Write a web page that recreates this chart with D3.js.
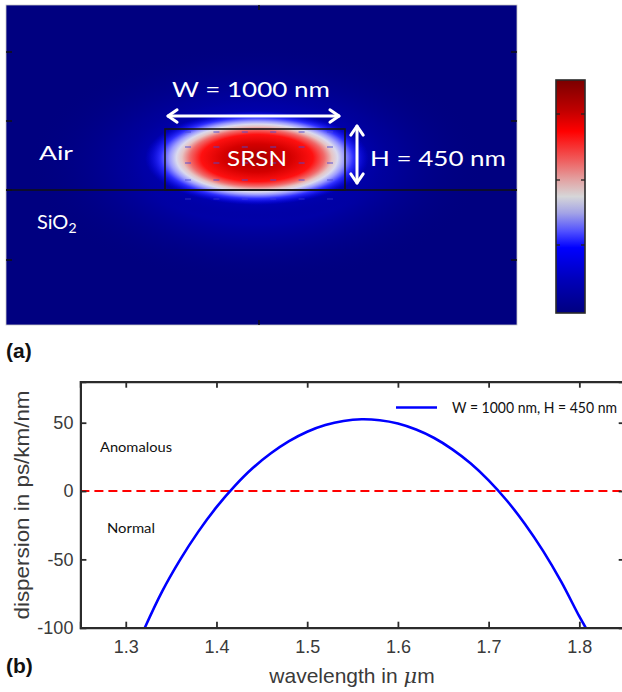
<!DOCTYPE html>
<html>
<head>
<meta charset="utf-8">
<script src="https://cdn.jsdelivr.net/npm/d3@7"></script>
<style>
  body { margin: 0; background: #fff; }
  svg { display: block; }
</style>
</head>
<body>
<svg id="chart" width="622" height="692"></svg>
<script>
// ---- data: dispersion curve ----
const wavelength = [1.321, 1.34, 1.36, 1.38, 1.40, 1.42, 1.44, 1.46, 1.48, 1.50, 1.52, 1.54, 1.56,
                    1.58, 1.60, 1.62, 1.64, 1.66, 1.68, 1.70, 1.72, 1.74, 1.76, 1.78, 1.80, 1.807];
const dispersion = [-100, -73.6, -50.2, -29.7, -11.8, 3.6, 16.8, 27.6, 36.5, 43.4, 48.3, 51.3, 52.5,
                    51.8, 49.4, 45.0, 38.8, 30.5, 20.3, 7.8, -6.9, -24.1, -43.8, -66.3, -91.8, -100];
const xTicks = [1.3, 1.4, 1.5, 1.6, 1.7, 1.8];
const yTicks = [-100, -50, 0, 50];
const seriesName = "W = 1000 nm, H = 450 nm";
const regionLabels = [{name: "Anomalous", value: 32}, {name: "Normal", value: -27}];

// colour map of the mode plot (top = max, bottom = min)
const cmapStops = [
  {o: 0,    c: "#7a0000"}, {o: 0.13, c: "#c00000"}, {o: 0.22, c: "#ff0000"},
  {o: 0.34, c: "#f05a5a"}, {o: 0.43, c: "#e2a4a4"}, {o: 0.5,  c: "#d6d6d8"},
  {o: 0.57, c: "#a4a4e6"}, {o: 0.65, c: "#5050ff"}, {o: 0.72, c: "#0000ff"},
  {o: 0.86, c: "#0000b8"}, {o: 1,    c: "#000080"}
];

const svg = d3.select("#chart");
const defs = svg.append("defs");

// ================= (a) mode plot =================
const img = {x0: 6, y0: 5, x1: 517, y1: 325};
const wg = {x0: 165, y0: 129, x1: 345, y1: 190};
const cx = 257, cy = 158;

// core gradient (same colour map, centre = max)
const core = defs.append("radialGradient").attr("id", "core");
[
  {o: 0,    c: "#a80000", a: 1}, {o: 0.3, c: "#d40000", a: 1}, {o: 0.5, c: "#ff1010", a: 1},
  {o: 0.6,  c: "#f06a6a", a: 1}, {o: 0.67, c: "#e6c4c4", a: 1}, {o: 0.72, c: "#dadaee", a: 1},
  {o: 0.78, c: "#9c9cff", a: 1}, {o: 0.86, c: "#3030ff", a: 1}, {o: 1, c: "#0000f0", a: 0}
].forEach(s => core.append("stop").attr("offset", s.o).attr("stop-color", s.c).attr("stop-opacity", s.a));

const halo = defs.append("radialGradient").attr("id", "halo");
[
  {o: 0, c: "#0000ff", a: 1}, {o: 0.5, c: "#0000f0", a: 0.75}, {o: 1, c: "#000080", a: 0}
].forEach(s => halo.append("stop").attr("offset", s.o).attr("stop-color", s.c).attr("stop-opacity", s.a));

defs.append("clipPath").attr("id", "imgClip")
  .append("rect").attr("x", img.x0).attr("y", img.y0)
  .attr("width", img.x1 - img.x0).attr("height", img.y1 - img.y0);

const gA = svg.append("g");
gA.append("rect")
  .attr("x", img.x0).attr("y", img.y0)
  .attr("width", img.x1 - img.x0).attr("height", img.y1 - img.y0)
  .attr("fill", "#000080").attr("stroke", "#c8c8c8").attr("stroke-width", 0.8);

const field = gA.append("g").attr("clip-path", "url(#imgClip)");
field.append("ellipse").attr("cx", cx).attr("cy", cy + 6).attr("rx", 230).attr("ry", 120)
  .attr("fill", "url(#halo)").attr("opacity", 0.45);
field.append("ellipse").attr("cx", cx).attr("cy", cy).attr("rx", 140).attr("ry", 62)
  .attr("fill", "url(#halo)").attr("opacity", 0.8);
field.append("ellipse").attr("cx", cx).attr("cy", cy).attr("rx", 112).attr("ry", 47)
  .attr("fill", "url(#core)");

// small arrows of the field vectors
const arrowCols = d3.range(6).map(i => 188 + i * 28.4);
const arrowRows = [132, 147, 163, 180, 199];
arrowRows.forEach(ry => arrowCols.forEach(ax => {
  field.append("line").attr("x1", ax - 3).attr("x2", ax + 3).attr("y1", ry).attr("y2", ry)
    .attr("stroke", "#4a4ad8").attr("stroke-width", 1.2).attr("opacity", ry > 190 ? 0.5 : 0.75);
}));

// waveguide box and substrate line
gA.append("line").attr("x1", img.x0).attr("x2", img.x1).attr("y1", wg.y1).attr("y2", wg.y1)
  .attr("stroke", "#111").attr("stroke-width", 1.6);
gA.append("rect").attr("x", wg.x0).attr("y", wg.y0)
  .attr("width", wg.x1 - wg.x0).attr("height", wg.y1 - wg.y0)
  .attr("fill", "none").attr("stroke", "#151515").attr("stroke-width", 1.6);

// frame ticks
const sideTicks = [52, 121, 190, 260];
sideTicks.forEach(t => {
  gA.append("line").attr("x1", img.x0).attr("x2", img.x0 + 6).attr("y1", t).attr("y2", t)
    .attr("stroke", "#111").attr("stroke-width", 1.5);
  gA.append("line").attr("x1", img.x1 - 6).attr("x2", img.x1).attr("y1", t).attr("y2", t)
    .attr("stroke", "#111").attr("stroke-width", 1.5);
});
[[img.y0, img.y0 + 5], [img.y1 - 5, img.y1]].forEach(([a, b]) => {
  gA.append("line").attr("x1", 259).attr("x2", 259).attr("y1", a).attr("y2", b)
    .attr("stroke", "#111").attr("stroke-width", 1.5);
});

// dimension arrows
function dblArrow(x1, y1, x2, y2) {
  const g = gA.append("g").attr("stroke", "#fff").attr("stroke-width", 3)
    .attr("fill", "none").attr("stroke-linecap", "round").attr("stroke-linejoin", "round");
  g.append("line").attr("x1", x1).attr("y1", y1).attr("x2", x2).attr("y2", y2);
  const ang = Math.atan2(y2 - y1, x2 - x1), L = 11, W = 0.6;
  [[x2, y2, ang], [x1, y1, ang + Math.PI]].forEach(([px, py, a]) => {
    g.append("path").attr("d", d3.line()([
      [px - L * Math.cos(a - W), py - L * Math.sin(a - W)], [px, py],
      [px - L * Math.cos(a + W), py - L * Math.sin(a + W)]
    ]));
  });
}
dblArrow(168, 116, 339, 116);
dblArrow(357, 126, 357, 183);

const wtxt = (x, y, s, len, size) => gA.append("text").attr("x", x).attr("y", y)
  .attr("fill", "#fff").attr("font-family", "Lato, 'Open Sans', sans-serif").attr("font-size", size)
  .attr("textLength", len).attr("lengthAdjust", "spacingAndGlyphs").text(s);
wtxt(172, 97, "W = 1000 nm", 158, 21);
wtxt(370, 166, "H = 450 nm", 136, 21);
wtxt(227, 166, "SRSN", 60, 21);
wtxt(39, 160, "Air", 34, 20);
const sio = gA.append("text").attr("x", 37).attr("y", 229).attr("fill", "#fff")
  .attr("font-family", "Lato, 'Open Sans', sans-serif").attr("font-size", 20);
sio.append("tspan").text("SiO");
sio.append("tspan").attr("font-size", 14).attr("dy", 4).text("2");

// colour bar
const cbar = defs.append("linearGradient").attr("id", "cbar")
  .attr("x1", 0).attr("x2", 0).attr("y1", 0).attr("y2", 1);
cmapStops.forEach(s => cbar.append("stop").attr("offset", s.o).attr("stop-color", s.c));
const cb = {x: 556, y: 80, w: 29, h: 233};
gA.append("rect").attr("x", cb.x).attr("y", cb.y).attr("width", cb.w).attr("height", cb.h)
  .attr("fill", "url(#cbar)").attr("stroke", "#2a2a2a").attr("stroke-width", 1.6);
[114, 180, 245].forEach(t => {
  gA.append("line").attr("x1", cb.x).attr("x2", cb.x + 4).attr("y1", t).attr("y2", t)
    .attr("stroke", "#222").attr("stroke-width", 1.3);
  gA.append("line").attr("x1", cb.x + cb.w - 4).attr("x2", cb.x + cb.w).attr("y1", t).attr("y2", t)
    .attr("stroke", "#222").attr("stroke-width", 1.3);
});

// ================= (b) dispersion plot =================
const x = d3.scaleLinear().domain([1.25, 1.85]).range([80.4, 624.7]);
const y = d3.scaleLinear().domain([-100, 80]).range([627.7, 381.7]);
const axisCol = "#2b2b2b", labCol = "#3a3a3a";
const gB = svg.append("g");

defs.append("clipPath").attr("id", "plotClip")
  .append("rect").attr("x", x(1.25)).attr("y", y(80))
  .attr("width", x(1.85) - x(1.25)).attr("height", y(-100) - y(80));

// zero line
gB.append("line")
  .attr("x1", x(1.25)).attr("x2", x(1.85)).attr("y1", y(0)).attr("y2", y(0))
  .attr("stroke", "#ff0000").attr("stroke-width", 2).attr("stroke-dasharray", "9,5");

// curve
gB.append("path")
  .datum(wavelength.map((w, i) => [w, dispersion[i]]))
  .attr("clip-path", "url(#plotClip)")
  .attr("fill", "none").attr("stroke", "#0000ff").attr("stroke-width", 2.6)
  .attr("d", d3.line().x(d => x(d[0])).y(d => y(d[1])).curve(d3.curveCatmullRom));

// axes (ticks inward, boxed)
const tickLen = 6;
const bottomAx = gB.append("g").attr("transform", `translate(0,${y(-100)})`)
  .call(d3.axisBottom(x).tickValues(xTicks).tickSize(-tickLen).tickPadding(13).tickFormat(d3.format(".1f")));
const topAx = gB.append("g").attr("transform", `translate(0,${y(80)})`)
  .call(d3.axisTop(x).tickValues(xTicks).tickSize(-tickLen).tickFormat(""));
const leftAx = gB.append("g").attr("transform", `translate(${x(1.25)},0)`)
  .call(d3.axisLeft(y).tickValues(yTicks).tickSize(-tickLen).tickPadding(7).tickFormat(d => String(d)));
const rightAx = gB.append("g").attr("transform", `translate(${x(1.85)},0)`)
  .call(d3.axisRight(y).tickValues(yTicks).tickSize(-tickLen).tickFormat(""));

[bottomAx, topAx, leftAx, rightAx].forEach(ax => {
  ax.select(".domain").attr("stroke", axisCol).attr("stroke-width", 2.2);
  ax.selectAll(".tick line").attr("stroke", axisCol).attr("stroke-width", 1.8);
  ax.selectAll("text").attr("fill", labCol).attr("font-family", "'Liberation Sans', Arial, sans-serif")
    .attr("font-size", 18);
});
leftAx.selectAll(".tick").filter(d => d === -100).select("line").remove();
bottomAx.selectAll(".tick text").attr("dy", "0.71em");

// region labels
const calib = "Lato, 'Open Sans', sans-serif";
gB.selectAll(".region").data(regionLabels).join("text")
  .attr("class", "region")
  .attr("x", (d, i) => i === 0 ? 100 : 107)
  .attr("y", d => y(d.value) + 5)
  .attr("font-family", calib).attr("font-size", 14).attr("fill", "#111")
  .attr("textLength", (d, i) => i === 0 ? 72 : 48).attr("lengthAdjust", "spacingAndGlyphs")
  .text(d => d.name);

// legend
gB.append("line").attr("x1", 396).attr("x2", 437).attr("y1", 407.5).attr("y2", 407.5)
  .attr("stroke", "#0000ff").attr("stroke-width", 2.6);
gB.append("text").attr("x", 452).attr("y", 412.5)
  .attr("font-family", calib).attr("font-size", 14.5).attr("fill", "#111")
  .attr("textLength", 165).attr("lengthAdjust", "spacingAndGlyphs")
  .text(seriesName);

// axis titles
gB.append("text")
  .attr("transform", `translate(29,505) rotate(-90)`)
  .attr("text-anchor", "middle")
  .attr("font-family", "'Liberation Sans', Arial, sans-serif").attr("font-size", 20).attr("fill", labCol)
  .attr("textLength", 229).attr("lengthAdjust", "spacingAndGlyphs")
  .text("dispersion in ps/km/nm");
const xt = gB.append("text").attr("x", 352).attr("y", 683).attr("text-anchor", "middle")
  .attr("font-family", "'Liberation Sans', Arial, sans-serif").attr("font-size", 21).attr("fill", labCol);
xt.append("tspan").text("wavelength in ");
xt.append("tspan").attr("font-style", "italic").attr("font-family", "'DejaVu Serif', serif").text("\u03bc");
xt.append("tspan").text("m");

// panel letters
[["(a)", 358], ["(b)", 673]].forEach(([s, yy]) => {
  svg.append("text").attr("x", 6).attr("y", yy)
    .attr("font-family", "'Liberation Sans', Arial, sans-serif").attr("font-weight", "bold")
    .attr("font-size", 21).attr("fill", "#111").text(s);
});
</script>
</body>
</html>
